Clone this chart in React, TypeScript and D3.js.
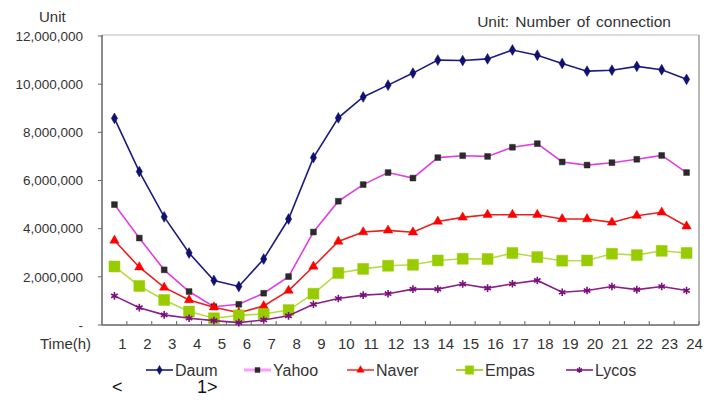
import * as d3 from "d3";

// hourly connections by portal
const hours = [1, 2, 3, 4, 5, 6, 7, 8, 9, 10, 11, 12, 13, 14, 15, 16, 17, 18, 19, 20, 21, 22, 23, 24];
const daum = [8580000, 6370000, 4490000, 2990000, 1850000, 1600000, 2740000, 4400000, 6950000, 8600000, 9470000, 9960000, 10460000, 11000000, 10980000, 11050000, 11420000, 11200000, 10860000, 10540000, 10580000, 10740000, 10600000, 10200000];
const yahoo = [5000000, 3610000, 2290000, 1390000, 760000, 860000, 1320000, 2010000, 3860000, 5140000, 5830000, 6330000, 6100000, 6950000, 7030000, 7000000, 7380000, 7530000, 6770000, 6640000, 6740000, 6880000, 7040000, 6330000];
const naver = [3510000, 2400000, 1560000, 1040000, 740000, 510000, 790000, 1430000, 2430000, 3470000, 3860000, 3930000, 3850000, 4300000, 4470000, 4580000, 4580000, 4580000, 4400000, 4400000, 4260000, 4540000, 4680000, 4100000];
const empas = [2430000, 1620000, 1040000, 560000, 280000, 400000, 460000, 620000, 1300000, 2160000, 2330000, 2460000, 2500000, 2680000, 2750000, 2740000, 2990000, 2820000, 2670000, 2680000, 2960000, 2900000, 3080000, 2990000];
const lycos = [1210000, 720000, 420000, 280000, 180000, 100000, 210000, 380000, 860000, 1100000, 1240000, 1300000, 1490000, 1490000, 1700000, 1530000, 1710000, 1850000, 1360000, 1430000, 1600000, 1470000, 1600000, 1430000];
const yTicks = [0, 2000000, 4000000, 6000000, 8000000, 10000000, 12000000];

const series = [
  { name: "Daum", values: daum, line: "#1c1c80", legendLine: "#1c1c80", marker: "#101070", symbol: d3.symbolDiamond, size: 34, stroke: false },
  { name: "Yahoo", values: yahoo, line: "#e040e0", legendLine: "#ff9cff", marker: "#2a2a2a", symbol: d3.symbolSquare, size: 34, stroke: false },
  { name: "Naver", values: naver, line: "#e82020", legendLine: "#ff3030", marker: "#ff0000", symbol: d3.symbolTriangle, size: 38, stroke: false },
  { name: "Empas", values: empas, line: "#b8dc40", legendLine: "#99cc00", marker: "#99cc00", symbol: d3.symbolSquare, size: 120, stroke: false },
  { name: "Lycos", values: lycos, line: "#8a208a", legendLine: "#8a208a", marker: "#7a107a", symbol: d3.symbolAsterisk, size: 40, stroke: true },
];

const W = 720;
const H = 419;
const left = 102;
const right = 699;
const top = 36;
const bottom = 325;
const font = "Arial, 'Liberation Sans', sans-serif";
const textColor = "#333";

export default function App() {
  const x = d3.scaleBand<number>().domain(hours).range([left, right]).padding(0);
  const y = d3.scaleLinear().domain([0, 12000000]).range([bottom, top]);
  const cx = (h: number) => x(h)! + x.bandwidth() / 2;
  const fmt = d3.format(",");
  const line = d3
    .line<number>()
    .x((_, i) => cx(hours[i]))
    .y((d) => y(d));

  const legendX = [146, 244, 347, 456, 566];

  return (
    <svg
      width={W}
      height={H}
      style={{ position: "absolute", left: 0, top: 0, background: "#fff" }}
      fontFamily={font}
    >
      <text x={39} y={22} fontSize={15} fill={textColor}>Unit</text>
      <text x={671} y={27} fontSize={15.5} fill={textColor} textAnchor="end" wordSpacing={2}>
        Unit: Number of connection
      </text>

      {/* frame */}
      <line x1={left} x2={right} y1={top - 1} y2={top - 1} stroke="#cfcfcf" strokeWidth={1.5} />
      <line x1={right} x2={right} y1={top - 1} y2={bottom} stroke="#a0a0a0" strokeWidth={1.5} />
      <line x1={left} x2={left} y1={top - 1} y2={bottom} stroke="#666" strokeWidth={1.5} />
      <line x1={left} x2={right} y1={bottom} y2={bottom} stroke="#666" strokeWidth={1.5} />

      {yTicks.map((t) => (
        <g key={t}>
          <line x1={left - 4} x2={left} y1={y(t)} y2={y(t)} stroke="#666" />
          <text x={83} y={y(t)} dy="0.35em" fontSize={13.5} fill={textColor} textAnchor="end">
            {t === 0 ? "-" : fmt(t)}
          </text>
        </g>
      ))}

      {hours.map((h) => (
        <g key={h}>
          <line x1={x(h)! + x.bandwidth()} x2={x(h)! + x.bandwidth()} y1={bottom} y2={bottom - 4} stroke="#666" />
          <text x={cx(h) + 8} y={349} fontSize={15} fill={textColor} textAnchor="middle">{h}</text>
        </g>
      ))}
      <text x={40} y={349} fontSize={15} fill={textColor}>Time(h)</text>

      {series.map((s) => (
        <g key={s.name}>
          <path d={line(s.values)!} fill="none" stroke={s.line} strokeWidth={1.6} />
          {s.values.map((v, i) => (
            <path
              key={i}
              transform={`translate(${cx(hours[i])},${y(v)})`}
              d={d3.symbol(s.symbol, s.size)()!}
              fill={s.stroke ? "none" : s.marker}
              stroke={s.marker}
              strokeWidth={s.stroke ? 1.6 : 0.5}
            />
          ))}
        </g>
      ))}

      {series.map((s, i) => (
        <g key={s.name} transform={`translate(${legendX[i]},370)`}>
          <line x1={0} x2={27} y1={0} y2={0} stroke={s.legendLine} strokeWidth={s.name === "Yahoo" ? 3 : 1.6} />
          <path
            transform="translate(13.5,0)"
            d={d3.symbol(s.symbol, s.name === "Empas" ? 70 : 24)()!}
            fill={s.stroke ? "none" : s.marker}
            stroke={s.marker}
            strokeWidth={s.stroke ? 1.4 : 0.5}
          />
          <text x={29} y={0} dy="0.36em" fontSize={16} fill={textColor}>{s.name}</text>
        </g>
      ))}

      <text x={112} y={393} fontSize={18} fill="#111">&lt;</text>
      <text x={197} y={393} fontSize={18} fill="#111">1&gt;</text>
    </svg>
  );
}
